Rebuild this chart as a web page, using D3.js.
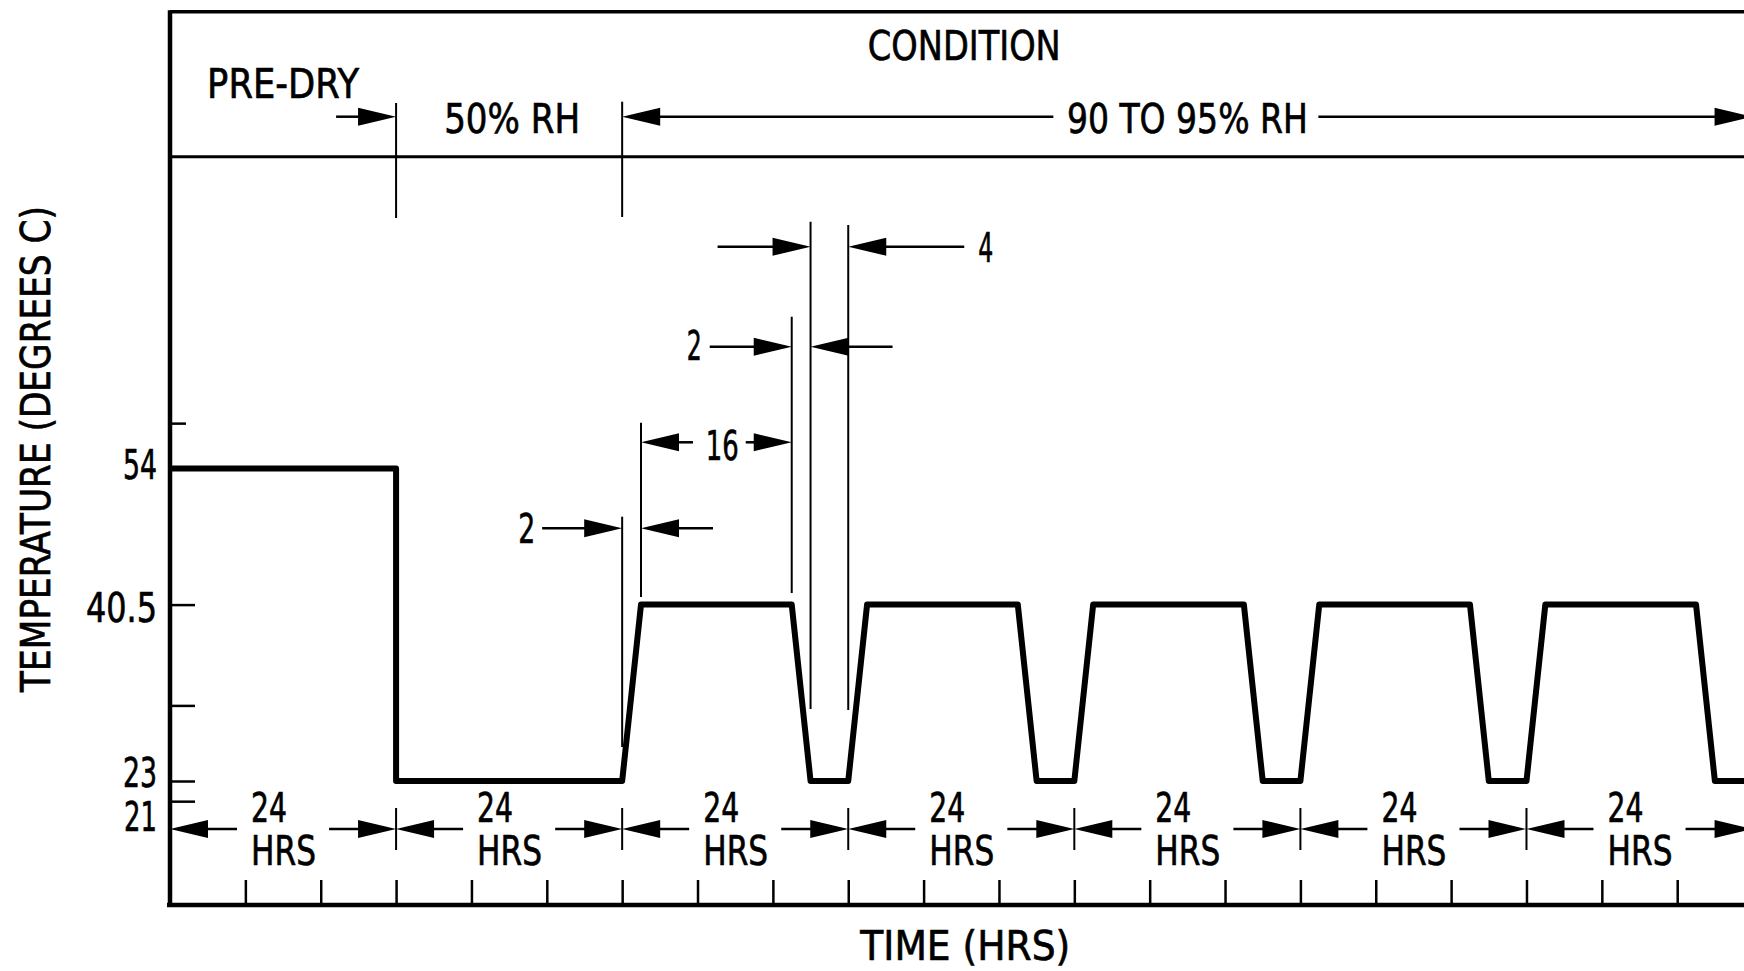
<!DOCTYPE html>
<html><head><meta charset="utf-8">
<script src="https://cdn.jsdelivr.net/npm/d3@7"></script>
<style>
html,body{margin:0;padding:0;background:#fff;}
svg{display:block;background:#fff;}
text{font-family:"DejaVu Sans","Liberation Sans",sans-serif;fill:#000;stroke:#000;stroke-width:0.7px;}
</style></head><body>
<svg id="chart" width="1744" height="971"></svg>
<script>
// ---------- data ----------
const profileHours = [0, 24, 24, 48, 50, 66, 68, 72, 74, 90, 92, 96, 98, 114, 116, 120, 122, 138, 140, 144, 146, 162, 164, 168, 170];
const profileTemps = [54, 54, 23, 23, 40.5, 40.5, 23, 23, 40.5, 40.5, 23, 23, 40.5, 40.5, 23, 23, 40.5, 40.5, 23, 23, 40.5, 40.5, 23, 23, 40.5];
const yTickValues = [58.5, 54, 40.5, 30.5, 23, 21];
const yTickLabels = ["", "54", "40.5", "", "23", "21"];
const xTickHours = [8, 16, 24, 32, 40, 48, 56, 64, 72, 80, 88, 96, 104, 112, 120, 128, 136, 144, 152, 160, 168];
const periodStartHours = [0, 24, 48, 72, 96, 120, 144];
const periodLength = 24;
const phaseStartHours = [0, 24, 48];
const phaseEndHours = [24, 48, 168];
const phaseLabels = ["PRE-DRY", "50% RH", "90 TO 95% RH"];
const headerTitle = "CONDITION";
const cycleStart = 48, riseHrs = 2, holdHrs = 16, fallHrs = 2, lowHrs = 4;
const xTitle = "TIME (HRS)";
const yTitle = "TEMPERATURE (DEGREES C)";

// ---------- layout ----------
const svg = d3.select("#chart");
const FS = 41;
const x = d3.scaleLinear().domain([0, 168]).range([170, 170 + 168 * 9.42]);
const y = d3.scaleLinear().domain([10.7, 84.93]).range([905, 156.7]);
const topY = 11.7, headY = 156.7, baseY = y(10.7);

function label(g, str, px, py, anchor, width, rot) {
  const t = g.append("text").attr("font-size", FS).attr("text-anchor", anchor).text(str);
  const nat = t.node().getComputedTextLength();
  const sx = width / nat;
  t.attr("transform", `translate(${px},${py})` + (rot ? ` rotate(${rot})` : "") + ` scale(${sx},1)`);
  return t;
}
function line(g, x1, y1, x2, y2, w) {
  g.append("line").attr("x1", x1).attr("y1", y1).attr("x2", x2).attr("y2", y2)
    .attr("stroke", "#000").attr("stroke-width", w);
}
function head(g, tipX, yy, dir) { // dir -1: points left, +1: points right
  const L = 38, h = 9;
  g.append("path").attr("d", `M${tipX},${yy}L${tipX - dir * L},${yy - h}L${tipX - dir * L},${yy + h}Z`).attr("fill", "#000");
}

const g = svg.append("g");

// frame lines
line(g, x(0), topY, 1744, topY, 3.5);
line(g, x(0), headY, 1744, headY, 3);
line(g, x(0), topY - 1.5, x(0), baseY + 2, 4.5);
line(g, x(0) - 3, baseY, 1744, baseY, 4.5);

// y axis ticks (inward)
const yAxis = d3.axisLeft(y).tickValues(yTickValues).tickSizeInner(-25).tickSizeOuter(0).tickFormat(() => "");
const gy = svg.append("g").attr("transform", `translate(${x(0)},0)`).call(yAxis);
gy.select(".domain").remove();
gy.selectAll(".tick line").attr("stroke", "#000").attr("stroke-width", 2.5).attr("x2", d => d === 58.5 ? 16 : 25);
const yLabelNudge = {"54": 10.5, "40.5": 17, "23": 6, "21": 30};
const yLabelWidth = {"54": 34, "40.5": 71, "23": 34, "21": 33};
yTickValues.forEach((v, i) => {
  const s = yTickLabels[i];
  if (s) label(g, s, x(0) - 13, y(v) + yLabelNudge[s], "end", yLabelWidth[s]);
});

// x axis ticks (upward)
const xAxis = d3.axisTop(x).tickValues(xTickHours).tickSize(25).tickFormat(() => "");
const gx = svg.append("g").attr("transform", `translate(0,${baseY})`).call(xAxis);
gx.select(".domain").remove();
gx.selectAll(".tick line").attr("stroke", "#000").attr("stroke-width", 2.5);

// temperature profile
const pts = profileHours.map((t, i) => [t, profileTemps[i]]);
svg.append("path").datum(pts)
  .attr("d", d3.line().x(d => x(d[0])).y(d => y(d[1])))
  .attr("fill", "none").attr("stroke", "#000").attr("stroke-width", 6)
  .attr("stroke-linejoin", "round");

// 24 HRS period dimensions
const arrY = 829;
periodStartHours.forEach(s => {
  const a = x(s), b = x(s + periodLength);
  head(g, a, arrY, -1); line(g, a + 30, arrY, a + 67, arrY, 2.5);
  head(g, b, arrY, 1); line(g, b - 67, arrY, b - 30, arrY, 2.5);
  line(g, b, 808, b, 850, 2);
  const lx = x(s + periodLength / 2) - 32;
  label(g, String(periodLength), lx, 822, "start", 36);
  label(g, "HRS", lx, 865, "start", 65);
});

// header: phases
label(g, headerTitle, x(84) + 3, 60, "middle", 193);
const phY = 116.7;
line(g, x(phaseEndHours[0]), 103, x(phaseEndHours[0]), 218, 2);
line(g, x(phaseStartHours[2]), 101.7, x(phaseStartHours[2]), 217, 2);
// PRE-DRY
label(g, phaseLabels[0], x((phaseStartHours[0] + phaseEndHours[0]) / 2), 98.3, "middle", 152);
head(g, x(phaseEndHours[0]), phY, 1); line(g, x(phaseEndHours[0]) - 60, phY, x(phaseEndHours[0]) - 30, phY, 2.5);
// 50% RH
label(g, phaseLabels[1], x((phaseStartHours[1] + phaseEndHours[1]) / 2) + 3, 133.3, "middle", 136);
// 90 TO 95% RH
const mid3 = x((phaseStartHours[2] + phaseEndHours[2]) / 2);
label(g, phaseLabels[2], mid3, 133.3, "middle", 241);
head(g, x(phaseStartHours[2]), phY, -1); line(g, x(phaseStartHours[2]) + 30, phY, mid3 - 134, phY, 2.5);
head(g, x(phaseEndHours[2]), phY, 1); line(g, mid3 + 131, phY, x(phaseEndHours[2]) - 30, phY, 2.5);

// cycle dimension annotations
const tR0 = cycleStart, tR1 = tR0 + riseHrs, tF0 = tR1 + holdHrs, tF1 = tF0 + fallHrs, tL1 = tF1 + lowHrs;
line(g, x(tR0), 516.7, x(tR0), 747, 2);
line(g, x(tR1), 422.7, x(tR1), 597, 2);
line(g, x(tF0), 316.7, x(tF0), 593, 2);
line(g, x(tF1), 221.7, x(tF1), 709, 2);
line(g, x(tL1), 225, x(tL1), 710, 2);

// "4" low hold
let yy = 246.7;
head(g, x(tF1), yy, 1); line(g, x(tF1) - 93, yy, x(tF1) - 30, yy, 2.5);
head(g, x(tL1), yy, -1); line(g, x(tL1) + 30, yy, x(tL1) + 116, yy, 2.5);
label(g, String(lowHrs), x(tL1) + 130, 261.5, "start", 15);

// "2" fall
yy = 346.7;
head(g, x(tF0), yy, 1); line(g, x(tF0) - 82, yy, x(tF0) - 30, yy, 2.5);
head(g, x(tF1), yy, -1); line(g, x(tF1) + 30, yy, x(tF1) + 82, yy, 2.5);
label(g, String(fallHrs), x(tF0) - 90, 360, "end", 15);

// "16" hold
yy = 442.3;
head(g, x(tR1), yy, -1); line(g, x(tR1) + 30, yy, x(tR1) + 52, yy, 2.5);
head(g, x(tF0), yy, 1); line(g, x(tF0) - 46, yy, x(tF0) - 30, yy, 2.5);
label(g, String(holdHrs), (x(tR1) + x(tF0)) / 2 + 6, 460, "middle", 33);

// "2" rise
yy = 528.3;
head(g, x(tR0), yy, 1); line(g, x(tR0) - 80, yy, x(tR0) - 30, yy, 2.5);
head(g, x(tR1), yy, -1); line(g, x(tR1) + 30, yy, x(tR1) + 72, yy, 2.5);
label(g, String(riseHrs), x(tR0) - 87, 542.7, "end", 17);

// axis titles
label(g, xTitle, x(84) + 4, 960, "middle", 210);
label(g, yTitle, 50, 449, "middle", 486, -90);
</script>
</body></html>
